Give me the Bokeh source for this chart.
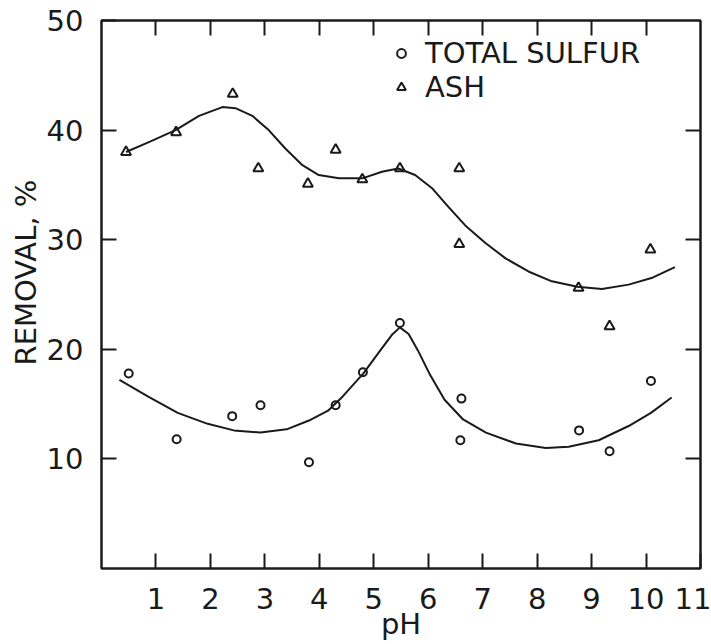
import math
from bokeh.plotting import figure
from bokeh.models import Range1d, LinearAxis, FixedTicker, Legend, LegendItem, Title
from bokeh.embed import file_html
from bokeh.resources import INLINE

# ---- data ----
ph_sulfur = [0.50, 1.38, 2.40, 2.92, 3.81, 4.30, 4.80, 5.48, 6.61, 6.59, 8.77, 9.33, 10.09]
sulfur    = [17.8, 11.8, 13.9, 14.9, 9.7, 14.9, 17.9, 22.4, 15.5, 11.7, 12.6, 10.7, 17.1]

ph_ash = [0.45, 1.37, 2.41, 2.88, 3.79, 4.30, 4.79, 5.48, 6.57, 6.57, 8.76, 9.33, 10.08]
ash    = [38.0, 39.8, 43.3, 36.5, 35.1, 38.2, 35.5, 36.5, 36.5, 29.6, 25.6, 22.1, 29.1]

# hand-drawn trend curves
sulfur_curve_ph = [0.33, 0.85, 1.40, 1.95, 2.43, 2.92, 3.40, 3.81, 4.16, 4.43, 4.81, 5.12,
                   5.33, 5.48, 5.64, 5.81, 6.02, 6.30, 6.64, 7.06, 7.61, 8.16, 8.58, 9.13,
                   9.68, 10.09, 10.47]
sulfur_curve = [17.2, 15.7, 14.2, 13.2, 12.6, 12.4, 12.7, 13.5, 14.4, 15.7, 17.8, 19.9,
                21.3, 22.0, 21.4, 19.9, 17.8, 15.4, 13.6, 12.4, 11.4, 11.0, 11.1, 11.7,
                13.0, 14.2, 15.6]

ash_curve_ph = [0.45, 0.87, 1.36, 1.79, 2.22, 2.46, 2.77, 3.07, 3.38, 3.69, 3.99, 4.36,
                4.79, 5.15, 5.45, 5.76, 6.07, 6.37, 6.68, 7.05, 7.42, 7.84, 8.27, 8.74,
                9.19, 9.68, 10.10, 10.53]
ash_curve = [38.0, 38.9, 40.0, 41.3, 42.1, 42.0, 41.3, 40.0, 38.3, 36.8, 35.9, 35.6,
             35.6, 36.2, 36.5, 35.9, 34.7, 33.0, 31.3, 29.7, 28.3, 27.1, 26.2, 25.7,
             25.5, 25.9, 26.5, 27.5]

x_ticks = [1, 2, 3, 4, 5, 6, 7, 8, 9, 10, 11]
y_ticks = [10, 20, 30, 40, 50]
x_label = "pH"
y_label = "REMOVAL, %"
series_names = ["TOTAL SULFUR", "ASH"]

FONT = "DejaVu Sans"
FS = "29px"
INK = "#1a1a1a"

p = figure(width=711, height=644, x_range=Range1d(0, 11), y_range=Range1d(0, 50),
           output_backend="svg", toolbar_location=None,
           min_border_left=101, min_border_right=11, min_border_top=20, min_border_bottom=76,
           background_fill_color="white", border_fill_color="white")
p.xgrid.grid_line_color = None
p.ygrid.grid_line_color = None
p.outline_line_color = INK
p.outline_line_width = 2

def style_axis(ax, ticks, show_labels):
    ax.ticker = FixedTicker(ticks=ticks)
    ax.axis_line_color = INK
    ax.axis_line_width = 2
    ax.major_tick_in = 15
    ax.major_tick_out = 0
    ax.major_tick_line_color = INK
    ax.major_tick_line_width = 2
    ax.minor_tick_line_color = None
    if show_labels:
        ax.major_label_text_font = FONT
        ax.major_label_text_font_size = FS
        ax.major_label_text_color = INK
    else:
        ax.major_label_text_font_size = "0px"
        ax.major_label_text_color = None
        ax.major_label_standoff = 0

xa = p.xaxis[0]
style_axis(xa, x_ticks, True)
xa.major_label_standoff = 19
xa.axis_label = x_label
xa.axis_label_text_font = FONT
xa.axis_label_text_font_size = FS
xa.axis_label_text_font_style = "normal"
xa.axis_label_text_color = INK
xa.axis_label_standoff = -5

ya = p.yaxis[0]
style_axis(ya, y_ticks, True)
ya.major_label_standoff = 18

# y-axis title, placed on the left like the reference (a little above centre)
ytitle = Title(text=y_label, align="left", offset=203, vertical_align="middle",
               standoff=0, text_font=FONT, text_font_size=FS,
               text_font_style="normal", text_color=INK)
p.add_layout(ytitle, "left")

top = LinearAxis()
style_axis(top, x_ticks[:-1], False)
p.add_layout(top, "above")
right = LinearAxis()
style_axis(right, y_ticks[:-1], False)
p.add_layout(right, "right")

# curves
p.line(sulfur_curve_ph, sulfur_curve, line_color=INK, line_width=2, line_join="round")
p.line(ash_curve_ph, ash_curve, line_color=INK, line_width=2, line_join="round")

# points
r_s = p.scatter(ph_sulfur, sulfur, marker="circle", size=8, fill_color=None,
                line_color=INK, line_width=2)
r_a = p.scatter(ph_ash, ash, marker="triangle", size=10, fill_color=None,
                line_color=INK, line_width=2)

legend = Legend(items=[LegendItem(label=series_names[0], renderers=[r_s]),
                       LegendItem(label=series_names[1], renderers=[r_a])],
                location=(289, 464), padding=0, margin=0, spacing=-2,
                glyph_width=22, glyph_height=34, label_height=34, label_standoff=13,
                label_text_font=FONT, label_text_font_size=FS, label_text_color=INK,
                border_line_color=None, background_fill_alpha=0)
p.add_layout(legend)

open("out.html", "w").write(file_html(p, INLINE))
